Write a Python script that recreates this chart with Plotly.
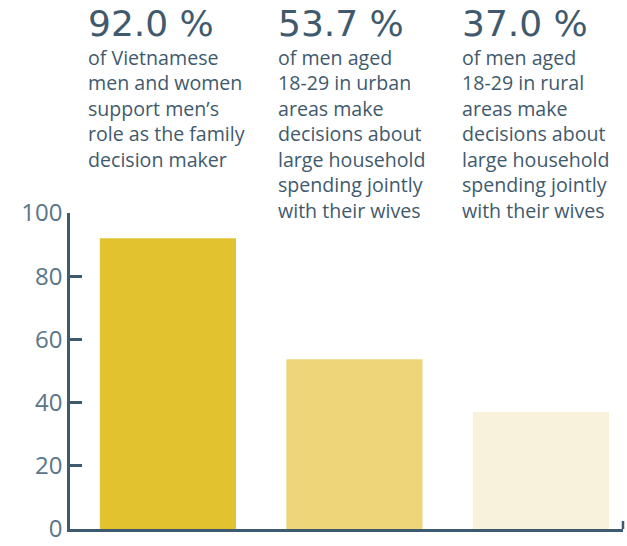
import plotly.graph_objects as go

categories = ["Vietnamese men and women", "Urban men 18-29", "Rural men 18-29"]
values = [92.0, 53.7, 37.0]
bar_colors = ["#E3C22F", "#EED57A", "#F8F1DC"]
headlines = ["92.0 %", "53.7 %", "37.0 %"]
descriptions = [
    "of Vietnamese<br>men and women<br>support men’s<br>role as the family<br>decision maker",
    "of men aged<br>18-29 in urban<br>areas make<br>decisions about<br>large household<br>spending jointly<br>with their wives",
    "of men aged<br>18-29 in rural<br>areas make<br>decisions about<br>large household<br>spending jointly<br>with their wives",
]
y_ticks = [0, 20, 40, 60, 80, 100]

W, H = 627, 546
L, R, T, B = 70, 4, 213, 17
TEXT = "#3F5A6D"
AXIS = "#3D5A6E"

fig = go.Figure()
fig.add_trace(go.Bar(
    x=list(range(len(categories))), y=values,
    marker=dict(color=bar_colors, line=dict(width=0)),
    width=0.73, hoverinfo="skip",
))

plot_w = W - L - R
plot_h = H - T - B
def px_x(p):
    return (p - L) / plot_w
def px_y(p):
    return (H - B - p) / plot_h

col_x = [86, 276, 460]
for i in range(len(categories)):
    fig.add_annotation(
        x=px_x(col_x[i]), y=px_y(1), xref="paper", yref="paper",
        xanchor="left", yanchor="top", showarrow=False, align="left",
        text=headlines[i], font=dict(family="DejaVu Sans", size=36, color=TEXT),
    )
    fig.add_annotation(
        x=px_x(col_x[i]), y=px_y(42), xref="paper", yref="paper",
        xanchor="left", yanchor="top", showarrow=False, align="left",
        text=descriptions[i], font=dict(family="Open Sans", size=19.6, color=TEXT),
    )

# small end tick at right end of x axis
fig.add_shape(type="line", xref="paper", yref="paper", x0=1, x1=1,
              y0=0, y1=px_y(H - B - 8), line=dict(color=AXIS, width=2.5))

fig.update_layout(
    width=W, height=H, margin=dict(l=L, r=R, t=T, b=B, autoexpand=False),
    plot_bgcolor="white", paper_bgcolor="white", showlegend=False,
    xaxis=dict(range=[-0.525, 2.44], showticklabels=False, showgrid=False,
               zeroline=False, showline=True, linecolor=AXIS, linewidth=2.5,
               ticks="", automargin=False),
    yaxis=dict(range=[0, 100], tickvals=y_ticks, showgrid=False, zeroline=False,
               showline=True, linecolor=AXIS, linewidth=2.5, ticks="inside",
               ticklen=12, tickwidth=2.5, tickcolor=AXIS, automargin=False,
               ticklabeloverflow="allow",
               tickfont=dict(family="Open Sans", size=24, color="#587689")),
)

fig.write_html("out.html")
